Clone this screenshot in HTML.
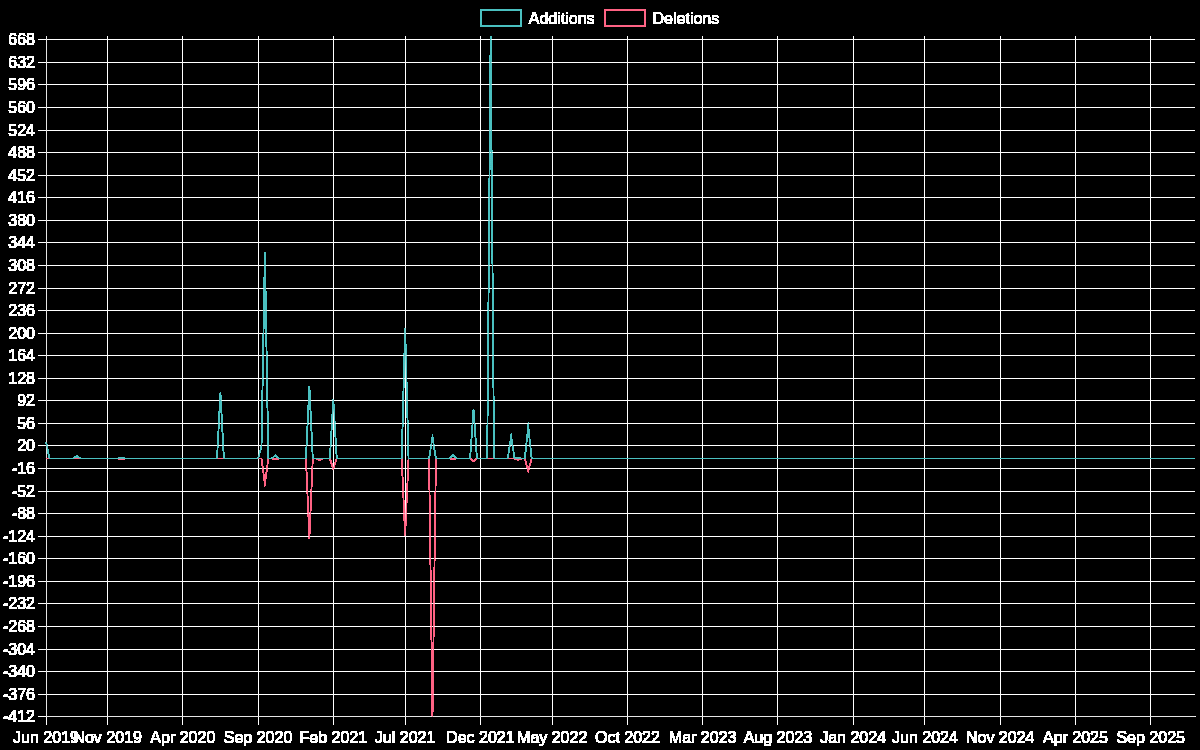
<!DOCTYPE html>
<html><head><meta charset="utf-8"><title>Code frequency</title>
<style>
html,body{margin:0;padding:0;background:#000;}
body{width:1200px;height:750px;overflow:hidden;font-family:"Liberation Sans",sans-serif;}
svg{display:block;}
</style></head><body>
<svg width="1200" height="750" viewBox="0 0 1200 750">
<defs>
<filter id="t" x="0" y="0" width="1200" height="750" filterUnits="userSpaceOnUse" color-interpolation-filters="sRGB"><feComponentTransfer><feFuncA type="linear" slope="255" intercept="0"/></feComponentTransfer></filter>
<clipPath id="c"><rect x="45.5234" y="36" width="1149.48" height="681.3"/></clipPath>
</defs>
<rect width="1200" height="750" fill="#000"/>
<g filter="url(#t)">
<rect x="480.74" y="10" width="40" height="16" fill="none" stroke="rgb(75,192,192)" stroke-width="1"/>
<rect x="604.56" y="10" width="40" height="16" fill="none" stroke="rgb(255,99,132)" stroke-width="1"/>
<path d="M46.5 36V724.8M107.5 36V724.8M182.5 36V724.8M258.5 36V724.8M333.5 36V724.8M405.5 36V724.8M480.5 36V724.8M552.5 36V724.8M627.5 36V724.8M702.5 36V724.8M777.5 36V724.8M853.5 36V724.8M924.5 36V724.8M1000.5 36V724.8M1075.5 36V724.8M1150.5 36V724.8M38.0234 716.5H1195M38.0234 694.5H1195M38.0234 671.5H1195M38.0234 649.5H1195M38.0234 626.5H1195M38.0234 603.5H1195M38.0234 581.5H1195M38.0234 558.5H1195M38.0234 536.5H1195M38.0234 513.5H1195M38.0234 491.5H1195M38.0234 468.5H1195M38.0234 445.5H1195M38.0234 423.5H1195M38.0234 400.5H1195M38.0234 378.5H1195M38.0234 355.5H1195M38.0234 333.5H1195M38.0234 310.5H1195M38.0234 288.5H1195M38.0234 265.5H1195M38.0234 242.5H1195M38.0234 220.5H1195M38.0234 197.5H1195M38.0234 175.5H1195M38.0234 152.5H1195M38.0234 130.5H1195M38.0234 107.5H1195M38.0234 84.5H1195M38.0234 62.5H1195M38.0234 39.5H1195" fill="none" stroke="#ffffff" stroke-width="1"/>
<path d="M46 716.5H1195M46.5 36V717" fill="none" stroke="#e5e5e5" stroke-width="1"/>
<path d="M1195 716.5H1196" fill="none" stroke="#f5f5f5" stroke-width="1"/>
<g clip-path="url(#c)" fill="none" stroke-width="1.001" stroke-linejoin="miter" stroke-miterlimit="10">
<polyline points="46.02,458.52 117.84,458.52 121.26,459.15 124.68,458.52 261.48,458.52 264.90,483.60 268.32,458.52 271.74,458.52 275.16,459.15 278.58,458.52 305.94,458.52 309.36,538.14 312.78,458.52 316.20,458.52 319.62,460.15 323.04,458.52 329.88,458.52 333.30,468.93 336.72,458.52 401.70,458.52 405.12,535.63 408.54,458.52 429.06,458.52 432.48,716.80 435.90,458.52 449.58,458.52 453.00,459.15 456.42,458.52 470.10,458.52 473.52,461.03 476.94,458.52 514.56,458.52 517.98,459.78 521.40,458.52 524.82,458.52 528.24,471.06 531.66,458.52 1195.14,458.52" stroke="rgb(255,99,132)"/>
<polyline points="46.02,442.22 49.44,458.52 73.38,458.52 76.80,456.01 80.22,458.52 117.84,458.52 121.26,457.90 124.68,458.52 217.02,458.52 220.44,392.70 223.86,458.52 258.06,458.52 261.48,445.98 264.90,252.28 268.32,458.52 271.74,458.52 275.16,455.39 278.58,458.52 305.94,458.52 309.36,386.43 312.78,458.52 329.88,458.52 333.30,399.59 336.72,458.52 401.70,458.52 405.12,328.13 408.54,458.52 429.06,458.52 432.48,437.21 435.90,458.52 449.58,458.52 453.00,455.39 456.42,458.52 470.10,458.52 473.52,409.63 476.94,458.52 487.20,458.52 490.62,36.00 494.04,458.52 507.72,458.52 511.14,436.58 514.56,458.52 517.98,457.90 521.40,458.52 524.82,458.52 528.24,426.55 531.66,458.52 1195.14,458.52" stroke="rgb(75,192,192)"/>
</g>
<g font-family="'Liberation Sans', sans-serif" font-size="16" fill="#fff" stroke="none">
<text x="528.74" y="23.5">Additions</text><text x="652.56" y="23.5">Deletions</text>
<text x="35" y="722.30" text-anchor="end">-412</text><text x="35" y="699.73" text-anchor="end">-376</text><text x="35" y="677.16" text-anchor="end">-340</text><text x="35" y="654.60" text-anchor="end">-304</text><text x="35" y="632.03" text-anchor="end">-268</text><text x="35" y="609.46" text-anchor="end">-232</text><text x="35" y="586.89" text-anchor="end">-196</text><text x="35" y="564.32" text-anchor="end">-160</text><text x="35" y="541.76" text-anchor="end">-124</text><text x="35" y="519.19" text-anchor="end">-88</text><text x="35" y="496.62" text-anchor="end">-52</text><text x="35" y="474.05" text-anchor="end">-16</text><text x="35" y="451.48" text-anchor="end">20</text><text x="35" y="428.92" text-anchor="end">56</text><text x="35" y="406.35" text-anchor="end">92</text><text x="35" y="383.78" text-anchor="end">128</text><text x="35" y="361.21" text-anchor="end">164</text><text x="35" y="338.64" text-anchor="end">200</text><text x="35" y="316.08" text-anchor="end">236</text><text x="35" y="293.51" text-anchor="end">272</text><text x="35" y="270.94" text-anchor="end">308</text><text x="35" y="248.37" text-anchor="end">344</text><text x="35" y="225.80" text-anchor="end">380</text><text x="35" y="203.24" text-anchor="end">416</text><text x="35" y="180.67" text-anchor="end">452</text><text x="35" y="158.10" text-anchor="end">488</text><text x="35" y="135.53" text-anchor="end">524</text><text x="35" y="112.97" text-anchor="end">560</text><text x="35" y="90.40" text-anchor="end">596</text><text x="35" y="67.83" text-anchor="end">632</text><text x="35" y="45.26" text-anchor="end">668</text>
<text x="46.02" y="742.85" text-anchor="middle">Jun 2019</text><text x="107.58" y="742.85" text-anchor="middle">Nov 2019</text><text x="182.82" y="742.85" text-anchor="middle">Apr 2020</text><text x="258.06" y="742.85" text-anchor="middle">Sep 2020</text><text x="333.30" y="742.85" text-anchor="middle">Feb 2021</text><text x="405.12" y="742.85" text-anchor="middle">Jul 2021</text><text x="480.36" y="742.85" text-anchor="middle">Dec 2021</text><text x="552.18" y="742.85" text-anchor="middle">May 2022</text><text x="627.42" y="742.85" text-anchor="middle">Oct 2022</text><text x="702.66" y="742.85" text-anchor="middle">Mar 2023</text><text x="777.90" y="742.85" text-anchor="middle">Aug 2023</text><text x="853.14" y="742.85" text-anchor="middle">Jan 2024</text><text x="924.96" y="742.85" text-anchor="middle">Jun 2024</text><text x="1000.20" y="742.85" text-anchor="middle">Nov 2024</text><text x="1075.44" y="742.85" text-anchor="middle">Apr 2025</text><text x="1150.68" y="742.85" text-anchor="middle">Sep 2025</text>
</g>
</g>
</svg>
</body></html>
